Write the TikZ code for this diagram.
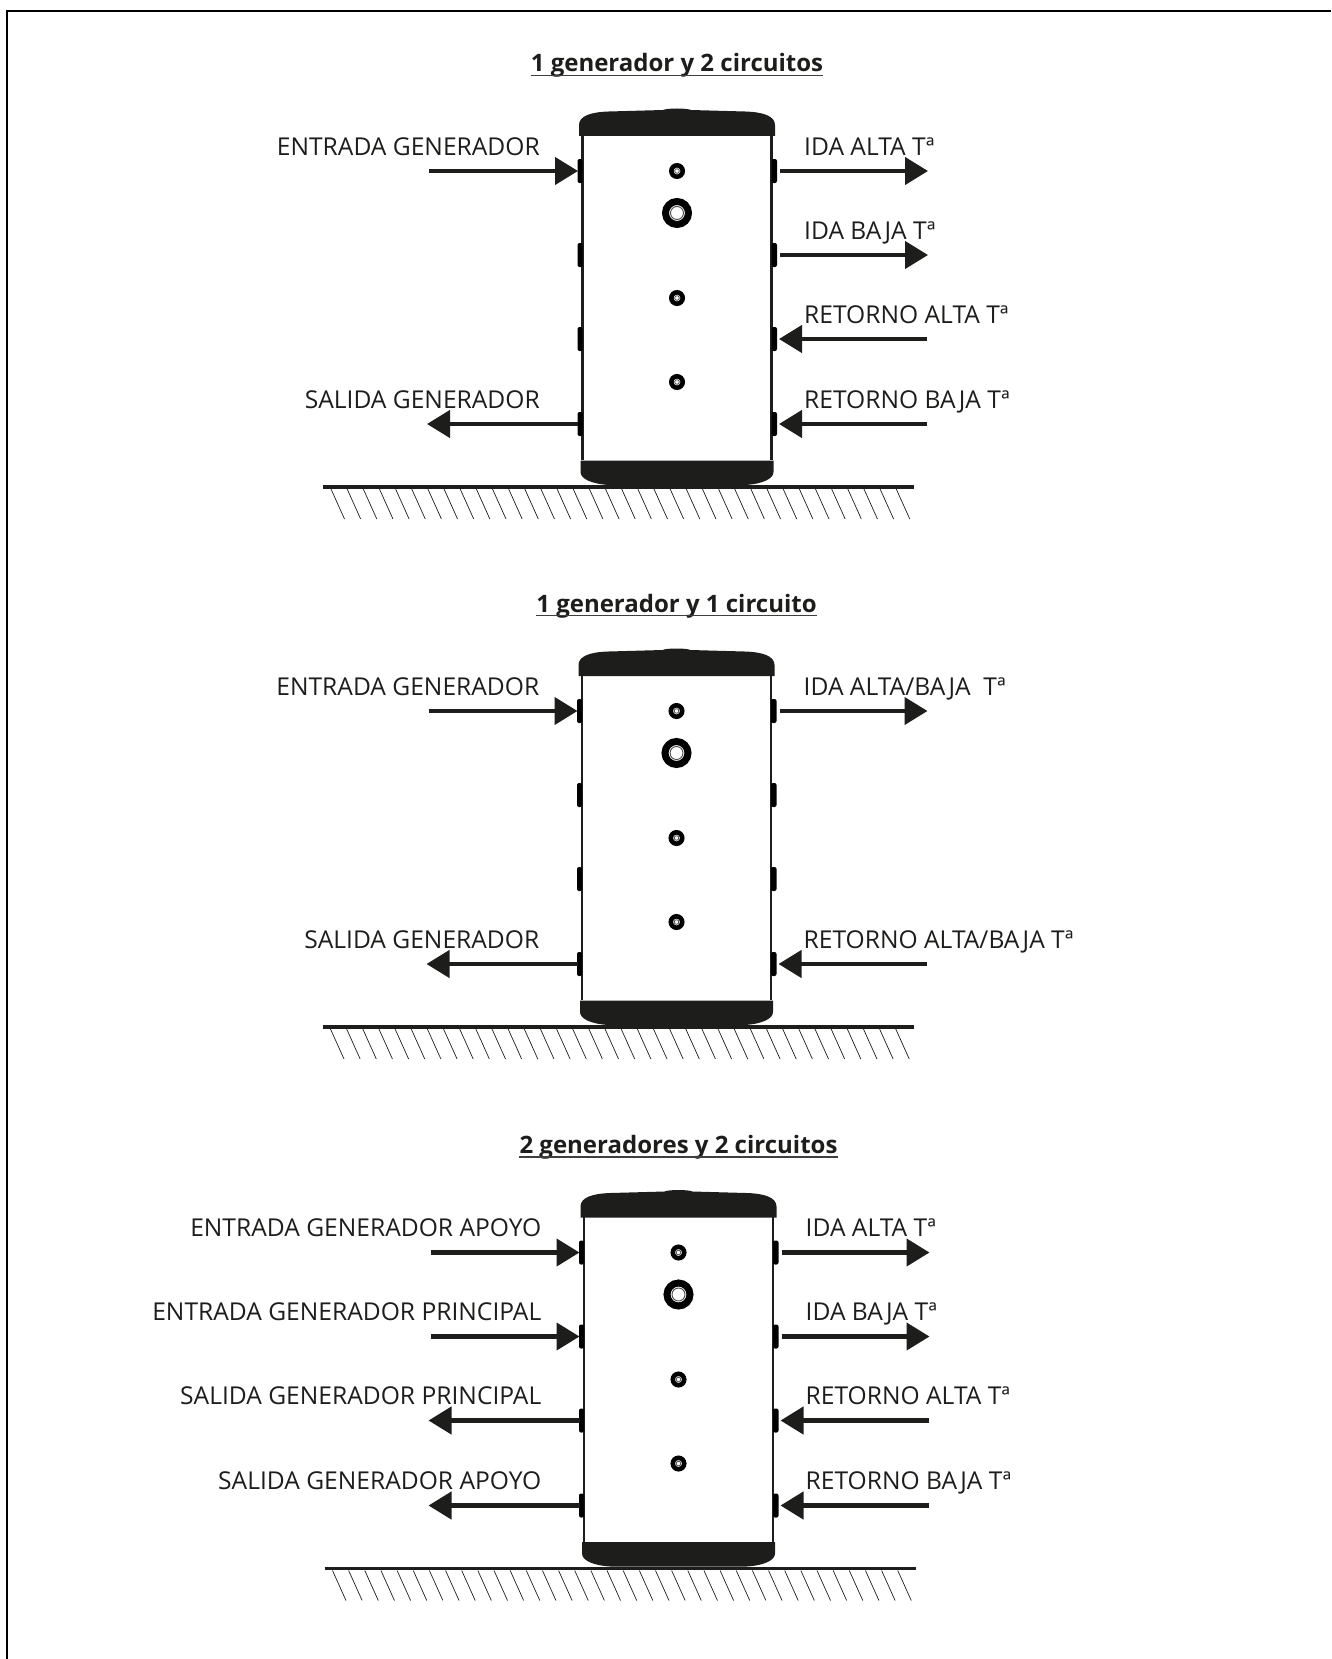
\documentclass[tikz,border=0pt]{standalone}
\usepackage{fontspec}
\setmainfont{Open Sans}
\usepackage{tikz}
\usetikzlibrary{arrows.meta}
\definecolor{inkblack}{HTML}{1D1D1B}

\begin{document}
\begin{tikzpicture}[
    x=1pt, y=-1pt,
    arr/.style={-{Triangle[length=23pt, width=27pt]}, line width=4.4pt, color=inkblack},
    lab_l/.style={anchor=base east, inner sep=0pt, text=inkblack, font=\fontsize{24.6}{28}\selectfont},
    lab_r/.style={anchor=base west, inner sep=0pt, text=inkblack, font=\fontsize{24.6}{28}\selectfont},
    heading/.style={anchor=base, inner sep=0pt, text=inkblack, font=\fontsize{24}{28}\selectfont\bfseries},
    headline/.style={line width=1.8pt, color=inkblack!85},
    ring_s/.style={circle, draw=black, fill=white, line width=4.6pt, minimum size=11.4pt, inner sep=0pt},
    ring_b/.style={circle, draw=black, fill=white, line width=7pt, minimum size=23pt, inner sep=0pt},
    core_s/.style={circle, draw=inkblack!80, line width=0.8pt, minimum size=4.6pt, inner sep=0pt},
    core_b/.style={circle, draw=inkblack!80, line width=0.9pt, minimum size=13pt, inner sep=0pt},
    lug/.style={fill=black, rounded corners=2pt},
    tank/.pic={
        %% ── Shell and caps ──────────────────────────────────────
        \draw[line width=2.6pt, color=inkblack] (-94.5,-352) -- (-94.5,-27) (94.5,-352) -- (94.5,-27);
        \fill[inkblack] (-98,-351) -- (-98,-362)
            .. controls (-98,-371) and (-86,-375) .. (-68,-375.5)
            -- (-14,-377) .. controls (-10,-379) and (10,-379) .. (14,-377)
            -- (68,-375.5) .. controls (86,-375) and (98,-371) .. (98,-362)
            -- (98,-351) -- cycle;
        \fill[inkblack] (-96.5,-26.5) -- (-96.5,-15)
            .. controls (-96.5,-8) and (-85,-3) .. (-68,-2)
            -- (68,-2) .. controls (85,-3) and (96.5,-8) .. (96.5,-15)
            -- (96.5,-26.5) -- cycle;
        %% ── Lugs ────────────────────────────────────────────────
        \foreach \py in {-316,-232,-148,-63} {
            \fill[lug] (-99.5,\py-12) rectangle (-94.5,\py+12);
            \fill[lug] (94.5,\py-12) rectangle (100,\py+12);
        }
        %% ── Front sockets ───────────────────────────────────────
        \node[ring_s] (-c1) at (0,-316) {};
        \node[ring_b] (-c2) at (0,-274) {};
        \node[ring_s] (-c3) at (0,-189) {};
        \node[ring_s] (-c4) at (0,-105) {};
        \node[core_s] (-i1) at (-c1) {};
        \node[core_b] (-i2) at (-c2) {};
        \node[core_s] (-i3) at (-c3) {};
        \node[core_s] (-i4) at (-c4) {};
        %% ── Ports, arrow tails, label anchors ───────────────────
        \coordinate (-l1) at (-99,-316);
        \coordinate (-l2) at (-99,-232);
        \coordinate (-l3) at (-99,-148);
        \coordinate (-l4) at (-99,-63);
        \coordinate (-r1) at (103,-316);
        \coordinate (-r2) at (103,-232);
        \coordinate (-r3) at (102,-148);
        \coordinate (-r4) at (102,-63);
        \coordinate (-lt1) at (-248,-316);
        \coordinate (-lt2) at (-248,-232);
        \coordinate (-lt3) at (-250,-148);
        \coordinate (-lt4) at (-250,-63);
        \coordinate (-rt1) at (251,-316);
        \coordinate (-rt2) at (251,-232);
        \coordinate (-rt3) at (250,-148);
        \coordinate (-rt4) at (250,-63);
        \coordinate (-a1) at (-137,-332);
        \coordinate (-a2) at (-137,-248);
        \coordinate (-a3) at (-137,-164);
        \coordinate (-a4) at (-137,-79);
        \coordinate (-b1) at (127,-332);
        \coordinate (-b2) at (127,-248);
        \coordinate (-b3) at (127,-164);
        \coordinate (-b4) at (127,-79);
        \coordinate (-h) at (0,-415);
        %% ── Floor ───────────────────────────────────────────────
        \draw[line width=3.5pt, color=inkblack] (-354,0) -- (237,0);
        \foreach \i in {0,...,35} {
            \draw[line width=0.7pt, color=inkblack] (-346+16.15*\i,2) -- ++(13.5,30);
        }
    }
]

\useasboundingbox (0,0) rectangle (1331,1659);

%% ── Frame (top and left only) ───────────────────────────────────
\draw[line width=2pt] (7,1659) -- (7,11) -- (1331,11);

%% ── Tanks ───────────────────────────────────────────────────────
\pic (t1) at (677,487) {tank};
\pic (t2) at (676.5,1027) {tank};
\pic (t3) at (678.5,1568.5) {tank};

%% ── Headings ────────────────────────────────────────────────────
\node[heading] (h1) at (t1-h) {1 generador y 2 circuitos};
\node[heading] (h2) at (t2-h) {1 generador y 1 circuito};
\node[heading] (h3) at (t3-h) {2 generadores y 2 circuitos};
\draw[headline] ([yshift=-3.5pt]h1.base west) -- ([yshift=-3.5pt]h1.base east);
\draw[headline] ([yshift=-3.5pt]h2.base west) -- ([yshift=-3.5pt]h2.base east);
\draw[headline] ([yshift=-3.5pt]h3.base west) -- ([yshift=-3.5pt]h3.base east);

%% ── First tank: labels ──────────────────────────────────────────
\node[lab_l] (t1_ein) at (t1-a1) {ENTRADA GENERADOR};
\node[lab_l] (t1_sal) at (t1-a4) {SALIDA GENERADOR};
\node[lab_r] (t1_ia)  at (t1-b1) {IDA ALTA Tª};
\node[lab_r] (t1_ib)  at (t1-b2) {IDA BAJA Tª};
\node[lab_r] (t1_ra)  at (t1-b3) {RETORNO ALTA Tª};
\node[lab_r] (t1_rb)  at (t1-b4) {RETORNO BAJA Tª};

%% ── First tank: arrows ──────────────────────────────────────────
\draw[arr] (t1-lt1) -- (t1-l1);
\draw[arr] (t1-l4)  -- (t1-lt4);
\draw[arr] (t1-r1)  -- (t1-rt1);
\draw[arr] (t1-r2)  -- (t1-rt2);
\draw[arr] (t1-rt3) -- (t1-r3);
\draw[arr] (t1-rt4) -- (t1-r4);

%% ── Second tank: labels ─────────────────────────────────────────
\node[lab_l] (t2_ein) at (t2-a1) {ENTRADA GENERADOR};
\node[lab_l] (t2_sal) at (t2-a4) {SALIDA GENERADOR};
\node[lab_r] (t2_i)   at (t2-b1) {IDA ALTA/BAJA~~Tª};
\node[lab_r] (t2_r)   at (t2-b4) {RETORNO ALTA/BAJA Tª};

%% ── Second tank: arrows ─────────────────────────────────────────
\draw[arr] (t2-lt1) -- (t2-l1);
\draw[arr] (t2-l4)  -- (t2-lt4);
\draw[arr] (t2-r1)  -- (t2-rt1);
\draw[arr] (t2-rt4) -- (t2-r4);

%% ── Third tank: labels ──────────────────────────────────────────
\node[lab_l] (t3_ea) at (t3-a1) {ENTRADA GENERADOR APOYO};
\node[lab_l] (t3_ep) at (t3-a2) {ENTRADA GENERADOR PRINCIPAL};
\node[lab_l] (t3_sp) at (t3-a3) {SALIDA GENERADOR PRINCIPAL};
\node[lab_l] (t3_sa) at (t3-a4) {SALIDA GENERADOR APOYO};
\node[lab_r] (t3_ia) at (t3-b1) {IDA ALTA Tª};
\node[lab_r] (t3_ib) at (t3-b2) {IDA BAJA Tª};
\node[lab_r] (t3_ra) at (t3-b3) {RETORNO ALTA Tª};
\node[lab_r] (t3_rb) at (t3-b4) {RETORNO BAJA Tª};

%% ── Third tank: arrows ──────────────────────────────────────────
\draw[arr] (t3-lt1) -- (t3-l1);
\draw[arr] (t3-lt2) -- (t3-l2);
\draw[arr] (t3-l3)  -- (t3-lt3);
\draw[arr] (t3-l4)  -- (t3-lt4);
\draw[arr] (t3-r1)  -- (t3-rt1);
\draw[arr] (t3-r2)  -- (t3-rt2);
\draw[arr] (t3-rt3) -- (t3-r3);
\draw[arr] (t3-rt4) -- (t3-r4);

\end{tikzpicture}
\end{document}
